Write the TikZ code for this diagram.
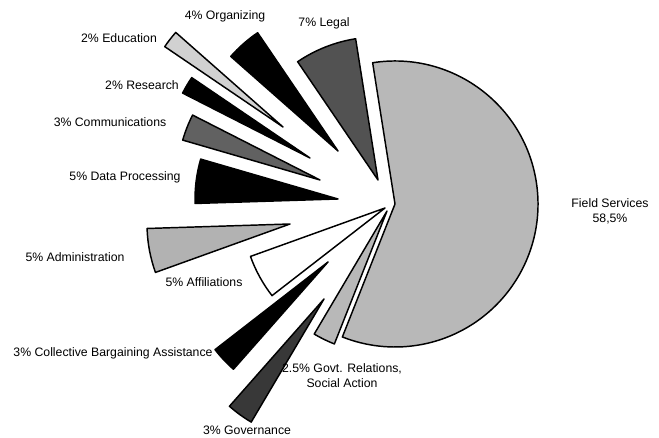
\documentclass[tikz,border=0pt]{standalone}
\usepackage{fontspec}
\setmainfont{Liberation Sans}
\tikzset{
  slice/.style={draw=black,line width=1.1pt,line join=round},
  lbl/.style={inner sep=0pt,align=center,font=\fontsize{9.2}{11.2}\selectfont}
}
\def\R{107.25pt}
\begin{document}
\begin{tikzpicture}[x=0.75pt,y=0.75pt]
		\useasboundingbox (0,0) rectangle (659,438);
		% slices: apex x / apex y / start / end / fill
		\foreach \ax/\ay/\s/\e/\f in {395/234/99/-111.6/black!28,
			387/227/-111.6/-120.6/black!28,
			324/139/-120.6/-131.4/black!78,
			328/176/-131.4/-142.2/black,
			385/230/-142.2/-160.2/white,
			290/214/-160.2/-178.2/black!30,
			338/239/-178.2/-196.2/black,
			320/258/-196.2/-207/black!62,
			310/280/-207/-214.2/black,
			283/311/-214.2/-221.4/black!18,
			338/287/-221.4/-235.8/black,
			378/258/-235.8/-261/black!68}{
		\draw[slice,fill=\f] (\ax,\ay) -- ++(\s:\R) arc[start angle=\s,end angle=\e,radius=\R] -- cycle;
		}
		% labels
		\node[lbl] (fs) at (610,227) {Field Services\\58,5\%};
		\node[lbl] (gr) at (342,62) {2.5\% Govt. Relations,\\Social Action};
		\node[lbl] (gov) at (247,8) {3\% Governance};
		\node[lbl] (cb) at (113,85) {3\% Collective Bargaining Assistance};
		\node[lbl] (aff) at (204,156) {5\% Affiliations};
		\node[lbl] (adm) at (75,181) {5\% Administration};
		\node[lbl] (dp) at (125,261) {5\% Data Processing};
		\node[lbl] (com) at (110,316) {3\% Communications};
		\node[lbl] (res) at (142,353) {2\% Research};
		\node[lbl] (edu) at (119,400) {2\% Education};
		\node[lbl] (org) at (225,422) {4\% Organizing};
		\node[lbl] (legal) at (324,415) {7\% Legal};
\end{tikzpicture}
\end{document}
